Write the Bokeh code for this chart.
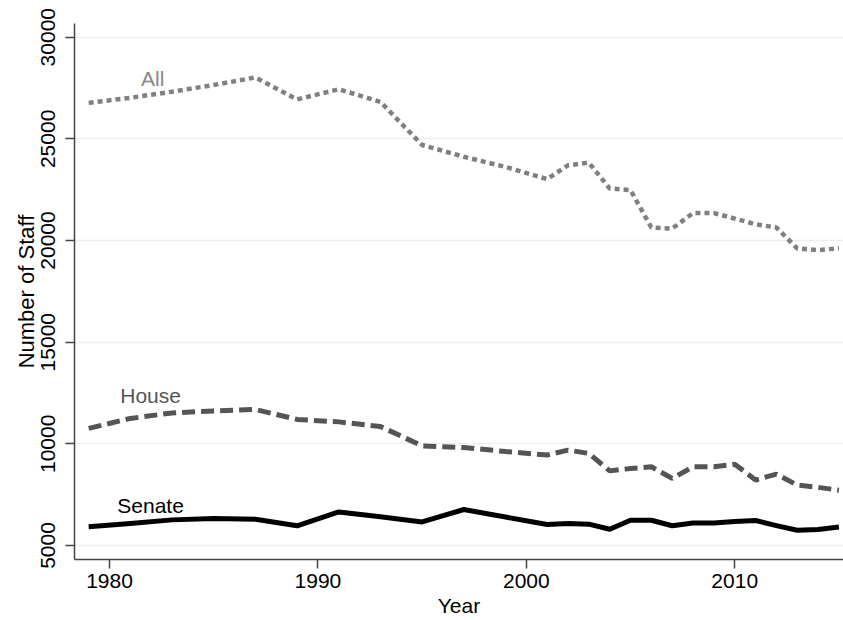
import math
from bokeh.plotting import figure
from bokeh.models import FixedTicker, Range1d, ColumnDataSource
from bokeh.core.properties import value
from bokeh.embed import file_html
from bokeh.resources import INLINE

years = [1979, 1981, 1983, 1985, 1987, 1989, 1991, 1993, 1995, 1997, 1999, 2001,
         2002, 2003, 2004, 2005, 2006, 2007, 2008, 2009, 2010, 2011, 2012, 2013, 2014, 2015]
all_staff = [26770, 27020, 27320, 27650, 28020, 26940, 27440, 26820, 24700, 24120, 23620, 23020,
             23700, 23830, 22560, 22480, 20640, 20590, 21350, 21350, 21080, 20800, 20640, 19610, 19530, 19620]
house_staff = [10760, 11250, 11520, 11620, 11690, 11200, 11080, 10850, 9900, 9820, 9620, 9450,
               9690, 9530, 8670, 8790, 8870, 8300, 8870, 8870, 9000, 8220, 8510, 7970, 7860, 7720]
senate_staff = [5920, 6080, 6260, 6330, 6290, 5970, 6650, 6410, 6160, 6770, 6400, 6030,
                6080, 6050, 5800, 6240, 6240, 5970, 6110, 6110, 6180, 6230, 5980, 5750, 5790, 5910]

series_names = ["All", "House", "Senate"]
label_x = [1982.07, 1981.97, 1981.97]
label_y = [27556, 11987, 6574]

x_ticks = [1980, 1990, 2000, 2010]
y_ticks = [5000, 10000, 15000, 20000, 25000, 30000]

FONT = "Liberation Sans"

p = figure(width=843, height=620, output_backend="svg", toolbar_location=None,
           x_range=Range1d(1978.32, 2015.22), y_range=Range1d(4311, 30674),
           min_border_left=74, min_border_right=0, min_border_top=23, min_border_bottom=61)
p.outline_line_color = None
p.background_fill_color = "white"
p.border_fill_color = "white"

p.xgrid.grid_line_color = None
p.ygrid.grid_line_color = "#e9f0f2"
p.ygrid.grid_line_width = 1.5

p.xaxis.ticker = FixedTicker(ticks=x_ticks)
p.yaxis.ticker = FixedTicker(ticks=y_ticks)
for ax in (p.xaxis[0], p.yaxis[0]):
    ax.axis_line_color = "#444444"
    ax.axis_line_width = 1.5
    ax.major_tick_line_color = "#444444"
    ax.major_tick_line_width = 1.5
    ax.major_tick_out = 9
    ax.major_tick_in = 0
    ax.minor_tick_line_color = None
    ax.major_label_text_font = FONT
    ax.major_label_text_font_size = "21px"
    ax.major_label_text_color = "black"
    ax.axis_label_text_font = FONT
    ax.axis_label_text_font_size = "21px"
    ax.axis_label_text_font_style = "normal"
    ax.axis_label_text_color = "black"

p.xaxis.axis_label = "Year"
p.xaxis.major_label_standoff = 5
p.xaxis.axis_label_standoff = 3
p.yaxis.axis_label = "Number of Staff"
p.yaxis.axis_label_text_font_size = "22px"
p.yaxis.major_label_orientation = "parallel"
p.yaxis.major_label_standoff = 10
p.yaxis.axis_label_standoff = 0

src = ColumnDataSource(dict(year=years, all=all_staff, house=house_staff, senate=senate_staff))

p.line("year", "all", source=src, line_color="#808080", line_width=4.5, line_dash="5 4")
p.line("year", "house", source=src, line_color="#555555", line_width=5, line_dash="13 6")
p.line("year", "senate", source=src, line_color="black", line_width=5, line_join="round")

label_colors = ["#888888", "#555555", "black"]
lsrc = ColumnDataSource(dict(x=label_x, y=label_y, t=series_names, c=label_colors))
p.text("x", "y", text="t", source=lsrc, text_color="c", text_align="center",
       text_baseline="alphabetic", y_offset=-8, text_font=value(FONT), text_font_size="21px")

open("out.html", "w").write(file_html(p, INLINE))
